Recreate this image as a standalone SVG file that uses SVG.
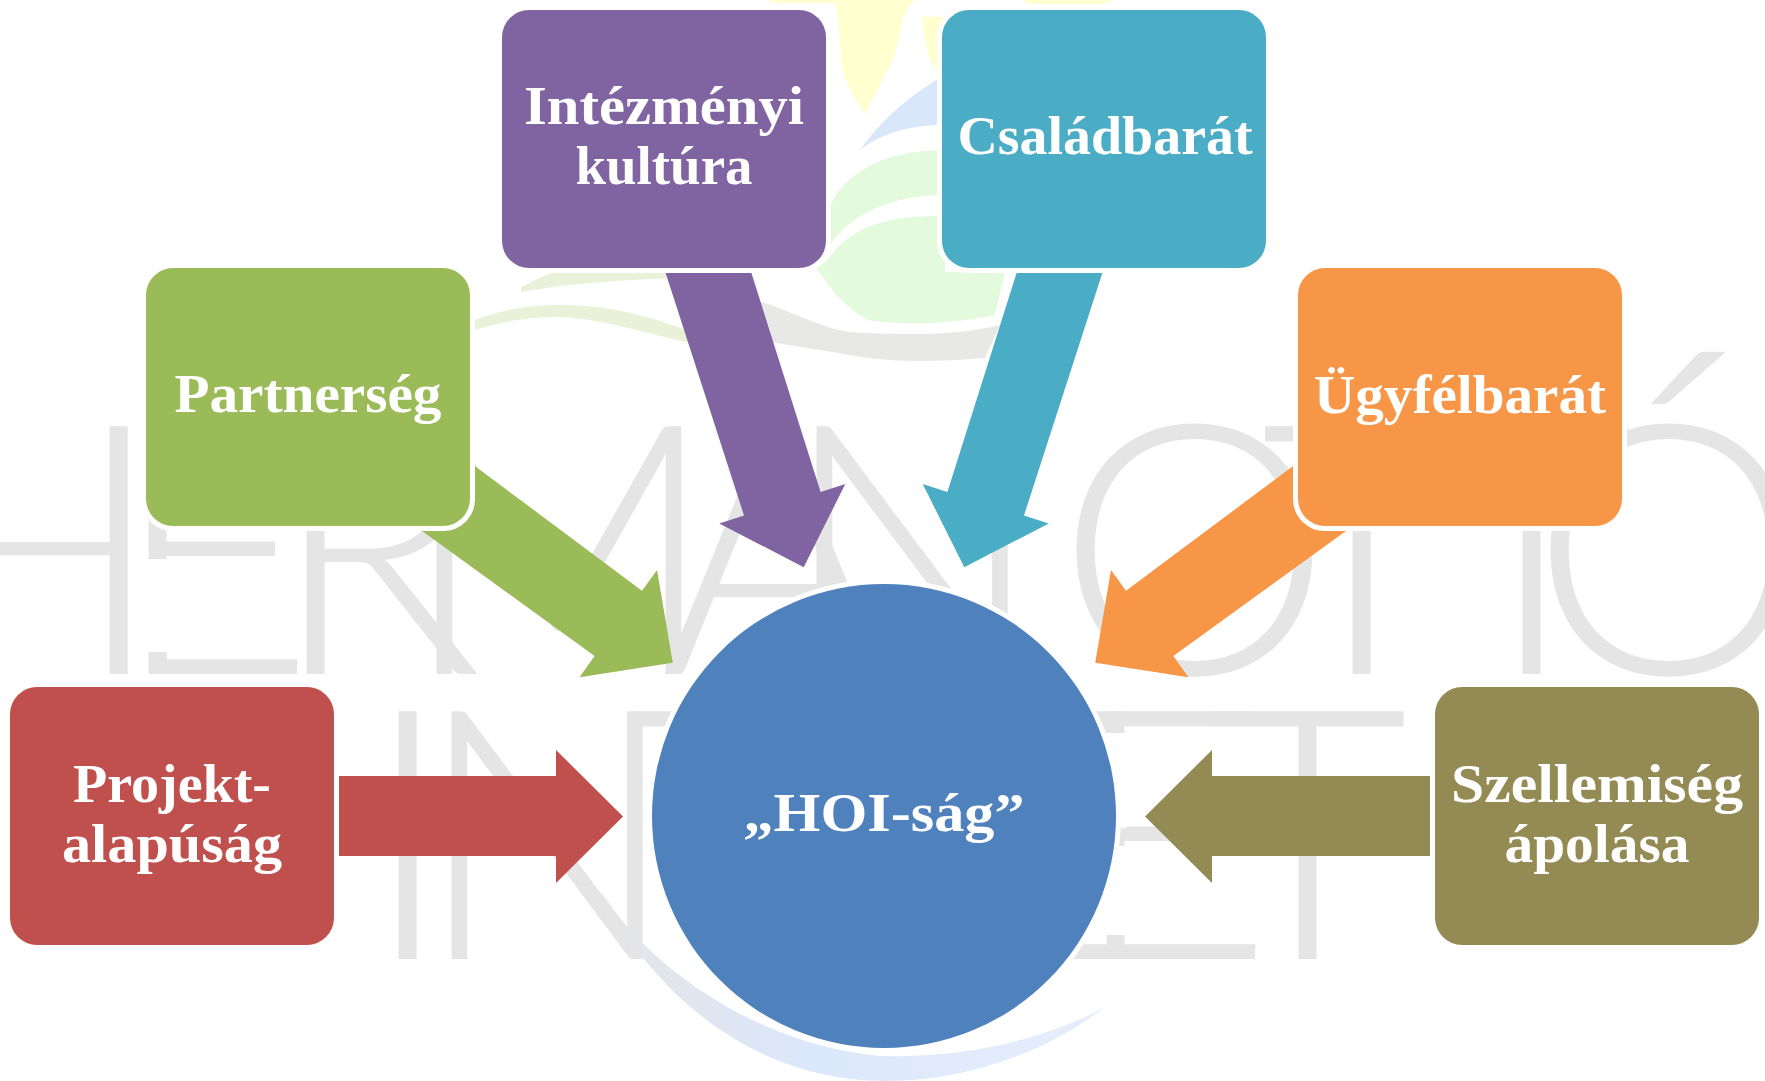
<svg xmlns="http://www.w3.org/2000/svg" width="1765" height="1081" viewBox="0 0 1765 1081">
<defs>
<linearGradient id="sw" x1="0" y1="0" x2="1" y2="0"><stop offset="0" stop-color="#e5e5e5"/><stop offset="0.4" stop-color="#dbe7fb"/><stop offset="1" stop-color="#e6eefc"/></linearGradient>
<style>
.box{stroke:#fff;stroke-width:10;paint-order:stroke}
.lbl{font-family:"Liberation Serif",serif;font-weight:700;font-size:55px;fill:#fff;text-anchor:middle}
.wm{font-family:Lato,"Open Sans",sans-serif;font-weight:300;font-size:350px;fill:#e5e5e5}
</style>
</defs>
<rect width="1765" height="1081" fill="#fff"/>
<g id="watermark">
<text class="wm" x="-100 112 270 400 660 780 1200 1056 1260 1430 1530" y="674" xml:space="preserve">HERMAN OTTÓ</text>
<text class="wm" x="362 415 630 800 930 1070 1206" y="959">INTÉZET</text>
<rect x="144" y="559" width="24" height="93" fill="#fff"/>
<rect x="1102" y="733" width="24" height="95" fill="#fff"/>
<rect x="1102" y="846" width="24" height="89" fill="#fff"/>
<path d="M835 0 C842 40 838 60 846 80 C852 95 860 105 865 115 C875 90 890 70 896 50 C902 30 900 15 914 0Z" fill="#ffffcf"/>
<path d="M922 17 C924 40 928 60 937 72 L945 72 L945 17Z" fill="#ffffcf"/>
<path d="M766 0 L868 0 L860 3 L775 3Z M1021 0 L1113 0 L1105 4 L1030 4Z" fill="#ffffcf"/>
<path d="M860 150 C885 115 915 92 945 75 L945 125 C905 125 880 135 860 150Z" fill="#d9e7fb"/>
<path d="M830 205 C845 175 880 150 945 150 L945 195 C890 195 850 215 830 245Z" fill="#e3fbdc"/>
<path d="M826 262 C850 225 890 215 945 216 L945 272 L1005 272 L995 315 C950 325 900 325 868 320 C840 305 825 280 816 268Z" fill="#e3fbdc"/>
<path d="M700 290 C780 295 815 335 868 333 C920 335 960 335 1000 325 L985 358 C940 362 900 362 868 358 C820 350 770 342 700 330Z" fill="#e8e8e6"/>
<path d="M475 320 C505 308 535 305 562 305 C600 305 640 312 700 335 L700 345 C650 335 610 320 562 317 C530 316 500 322 475 330Z" fill="#e9f2d8"/>
<path d="M521 287 C535 280 545 275 552 273 L680 273 L680 278 C620 280 570 283 521 292Z" fill="#e9f2d8"/>
<path d="M600 890 C650 990 750 1081 885 1081 C970 1081 1050 1050 1105 1007 C1040 1042 960 1058 880 1056 C760 1045 650 970 600 890Z" fill="url(#sw)"/>
</g>
<g id="connectors">
<polygon id="arrow-projekt" fill="#c0504d" points="339,776 556,776 556,750 623,816.5 556,883 556,856 339,856"/>
<polygon id="arrow-szellemiseg" fill="#948a54" points="1430,776 1212,776 1212,750 1145,816.5 1212,883 1212,856 1430,856"/>
<polygon id="arrow-partnerseg" fill="#9bbb59" points="440,440 642,590.7 657,570 672.8,662.7 579.5,677.3 594.6,656 400,515"/>
<polygon id="arrow-ugyfelbarat" fill="#f79646" points="1328,440 1126,590.7 1111,570 1095.2,662.7 1188.5,677.3 1173.4,656 1368,515"/>
<polygon id="arrow-intezmenyi" fill="#8064a2" points="655,240 744,515.5 719.3,523.4 803.7,567.3 845.3,484 820.6,492 741,240"/>
<polygon id="arrow-csaladbarat" fill="#4bacc6" points="1113,240 1024,515.5 1048.7,523.4 964.3,567.3 922.7,484 947.4,492 1027,240"/>
</g>
<g id="node-hoi"><circle class="box" cx="884" cy="816" r="232" fill="#4f81bd"/><text class="lbl" x="884" y="831" textLength="281" lengthAdjust="spacingAndGlyphs">„HOI-ság”</text></g>
<g id="node-projekt"><rect class="box" x="10" y="687" width="324" height="258" rx="27" fill="#c0504d"/><text class="lbl" x="172" y="802" textLength="198" lengthAdjust="spacingAndGlyphs">Projekt-</text><text class="lbl" x="172" y="862" textLength="220" lengthAdjust="spacingAndGlyphs">alapúság</text></g>
<g id="node-partnerseg"><rect class="box" x="146" y="268" width="324" height="258" rx="27" fill="#9bbb59"/><text class="lbl" x="308" y="412" textLength="267" lengthAdjust="spacingAndGlyphs">Partnerség</text></g>
<g id="node-intezmenyi"><rect class="box" x="502" y="10" width="324" height="258" rx="27" fill="#8064a2"/><text class="lbl" x="664" y="124" textLength="280" lengthAdjust="spacingAndGlyphs">Intézményi</text><text class="lbl" x="664" y="184" textLength="177" lengthAdjust="spacingAndGlyphs">kultúra</text></g>
<g id="node-csaladbarat"><rect class="box" x="942" y="10" width="324" height="258" rx="27" fill="#4bacc6"/><text class="lbl" x="1105" y="154" textLength="295" lengthAdjust="spacingAndGlyphs">Családbarát</text></g>
<g id="node-ugyfelbarat"><rect class="box" x="1298" y="268" width="324" height="258" rx="27" fill="#f79646"/><text class="lbl" x="1460" y="413" textLength="292" lengthAdjust="spacingAndGlyphs">Ügyfélbarát</text></g>
<g id="node-szellemiseg"><rect class="box" x="1435" y="687" width="324" height="258" rx="27" fill="#948a54"/><text class="lbl" x="1597" y="802" textLength="292" lengthAdjust="spacingAndGlyphs">Szellemiség</text><text class="lbl" x="1597" y="862" textLength="185" lengthAdjust="spacingAndGlyphs">ápolása</text></g>
</svg>
